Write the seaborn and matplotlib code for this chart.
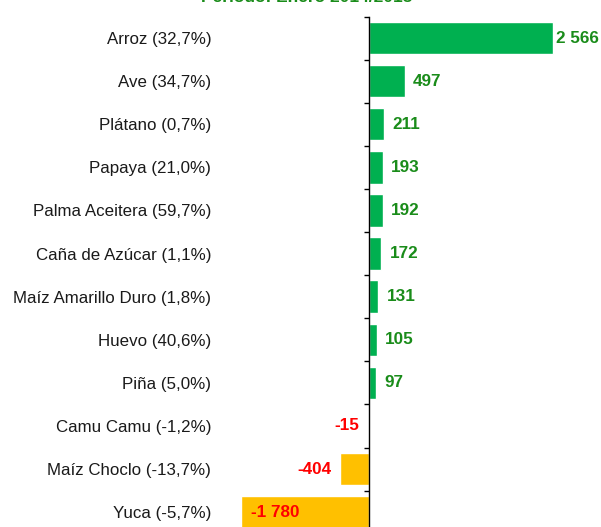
import matplotlib
matplotlib.use("Agg")
import matplotlib.pyplot as plt
import seaborn as sns
import pandas as pd
from matplotlib.ticker import FixedLocator

categories = ["Arroz (32,7%)", "Ave (34,7%)", "Plátano (0,7%)", "Papaya (21,0%)",
              "Palma Aceitera (59,7%)", "Caña de Azúcar (1,1%)",
              "Maíz Amarillo Duro (1,8%)", "Huevo (40,6%)", "Piña (5,0%)",
              "Camu Camu (-1,2%)", "Maíz Choclo (-13,7%)", "Yuca (-5,7%)"]
values = [2566, 497, 211, 193, 192, 172, 131, 105, 97, -15, -404, -1780]
value_labels = ["2 566", "497", "211", "193", "192", "172", "131", "105", "97",
                "-15", "-404", "-1 780"]
title = "Periodo: Enero 2014/2013"

sns.set_theme(style="white")
plt.rcParams["font.family"] = ["Liberation Sans", "DejaVu Sans"]

df = pd.DataFrame({"cat": categories, "val": values,
                   "sign": ["pos" if v >= 0 else "neg" for v in values]})

fig = plt.figure(figsize=(6.01, 5.27), dpi=100)
W, H = 601, 527
zero_px = 369
scale = 184 / 2566
ax_left_px, ax_right_px = 200, 601
top_px = 16.5
unit_px = 43.1
bottom_px = top_px + 12 * unit_px
ax = fig.add_axes([ax_left_px / W, 1 - bottom_px / H,
                   (ax_right_px - ax_left_px) / W, (bottom_px - top_px) / H])

sns.barplot(data=df, y="cat", x="val", hue="sign", orient="h",
            palette={"pos": "#00B050", "neg": "#FFC000"}, width=0.75,
            dodge=False, legend=False, ax=ax, saturation=1)

ax.set_xlim((ax_left_px - zero_px) / scale, (ax_right_px - zero_px) / scale)
ax.set_ylim(11.5, -0.5)
ax.set_xlabel("")
ax.set_ylabel("")
ax.set_xticks([])

for s in ["top", "right", "bottom"]:
    ax.spines[s].set_visible(False)
ax.spines["left"].set_position(("data", 0))
ax.spines["left"].set_color("black")
ax.spines["left"].set_linewidth(1.0)

ax.tick_params(axis="y", which="major", length=0, pad=113.5, labelsize=12.2,
               labelcolor="#1a1a1a")
ax.yaxis.set_minor_locator(FixedLocator([i - 0.5 for i in range(13)]))
ax.tick_params(axis="y", which="minor", left=True, length=3.5, width=1.0,
               color="black", direction="out")

texts = []
for i, (v, lab) in enumerate(zip(values, value_labels)):
    if v >= 0:
        t = ax.annotate(lab, (v, i), xytext=(6, 0), textcoords="offset points",
                        ha="left", va="center", color="#1a8c1a", fontsize=12.3,
                        fontweight="bold")
        texts.append(t)
    elif v < -1000:
        ax.annotate(lab, (v, i), xytext=(7, 0), textcoords="offset points",
                    ha="left", va="center", color="#FF0000", fontsize=12.3,
                    fontweight="bold")
    else:
        ax.annotate(lab, (v, i), xytext=(-6.5, 0), textcoords="offset points",
                    ha="right", va="center", color="#FF0000", fontsize=12.3,
                    fontweight="bold")

# keep labels inside the figure (like the reference's top label)
fig.canvas.draw()
r = fig.canvas.get_renderer()
for t in texts:
    bb = t.get_window_extent(r)
    if bb.x1 > W - 3:
        dx_pt = (bb.x1 - (W - 3)) * 72 / 100
        ox, oy = t.xyann
        t.xyann = (max(ox - dx_pt, 2.5), oy)

fig.text(307 / W, 1 - 2.5 / H, title, ha="center", va="baseline",
         color="#1a8c1a", fontsize=12.5, fontweight="bold")

fig.savefig("out.png", dpi=100)
